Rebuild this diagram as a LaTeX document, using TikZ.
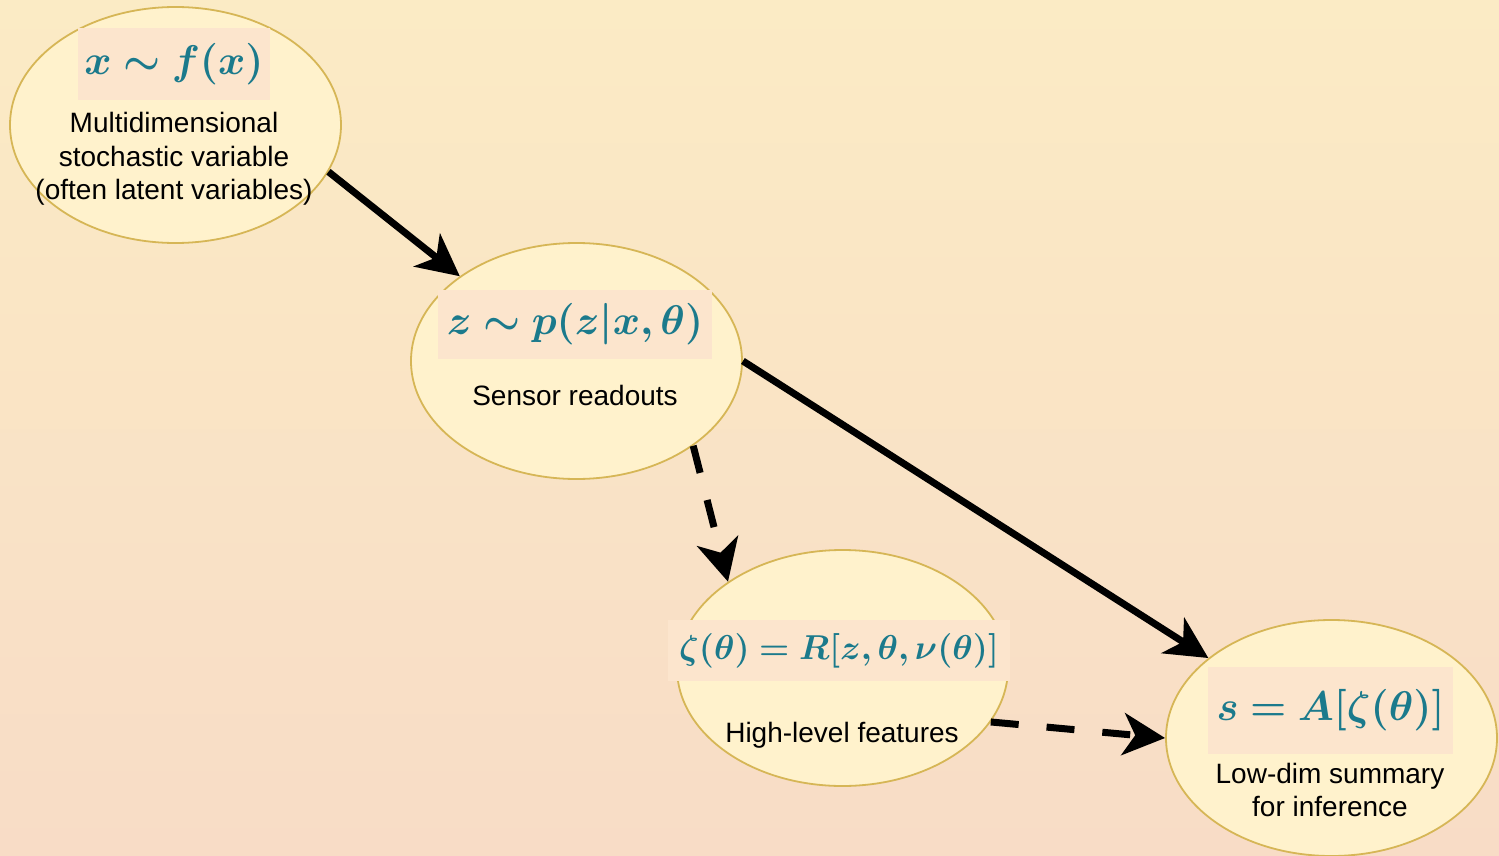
\documentclass[tikz,border=0pt]{standalone}
\usepackage{amsmath,bm}
\usepackage{fontspec}
\setmainfont{Liberation Sans}
\usetikzlibrary{arrows.meta,shapes.geometric}
\definecolor{bgtop}{HTML}{FBEBC5}
\definecolor{bgbot}{HTML}{F8DCC6}
\definecolor{efill}{HTML}{FFF2CC}
\definecolor{edraw}{HTML}{D6B656}
\definecolor{hl}{HTML}{FCE5CD}
\definecolor{mathc}{HTML}{1B7A8C}
\begin{document}
\begin{tikzpicture}[x=0.5pt,y=-0.5pt,
  ell/.style={ellipse, draw=edraw, fill=efill, line width=0.9pt, minimum width=165.5pt, minimum height=118pt, inner sep=0pt},
  hlbox/.style={fill=hl, inner sep=0pt, text=mathc},
  lbl/.style={align=center, font=\fontsize{14}{16.8}\selectfont, inner sep=0pt},
  arr/.style={line width=3.5pt, -{Stealth[length=21pt,width=21pt,inset=6pt]}},
  darr/.style={arr, dash pattern=on 14pt off 14pt}
]
\shade[top color=bgtop, bottom color=bgbot] (0,0) rectangle (1499,856);
\useasboundingbox (0,0) rectangle (1499,856);

\node[ell] (e1) at (175.5,125) {};
\node[ell] (e2) at (576.5,361) {};
\node[ell] (e3) at (842.5,668) {};
\node[ell] (e4) at (1331.5,738) {};

\node[hlbox, minimum width=96pt, minimum height=36pt] (m1) at (174,64)
  {\fontsize{22.5}{27}\selectfont $\bm{x\sim f(x)}$};
\node[hlbox, minimum width=137pt, minimum height=34.5pt] (m2) at (575,324.5)
  {\fontsize{22.6}{27}\selectfont $\bm{z\sim p(z|x,\theta)}$};
\node[hlbox, minimum width=171pt, minimum height=30.5pt] (m3) at (839,650.5)
  {\fontsize{17.8}{21}\selectfont $\bm{\zeta(\theta)=R[z,\theta,\nu(\theta)]}$};
\node[hlbox, minimum width=122.5pt, minimum height=43.5pt] (m4) at (1330.5,710.5)
  {\fontsize{21.5}{26}\selectfont $\bm{s=A[\zeta(\theta)]}$};

\node[lbl] (t1) at (174,159) {Multidimensional\\stochastic variable\\(often latent variables)};
\node[lbl] (t2) at (575,395) {Sensor readouts};
\node[lbl] (t3) at (842,735) {High-level features};
\node[lbl] (t4) at (1330,790) {Low-dim summary\\for inference};

\draw[arr] (e1.-17.6) -- (e2.144);
\draw[arr] (e2.0) -- (e4.147);
\draw[darr] (e2.-36.5) -- (e3.143.3);
\draw[darr] (e3.-20.8) -- (e4.180);
\end{tikzpicture}
\end{document}
